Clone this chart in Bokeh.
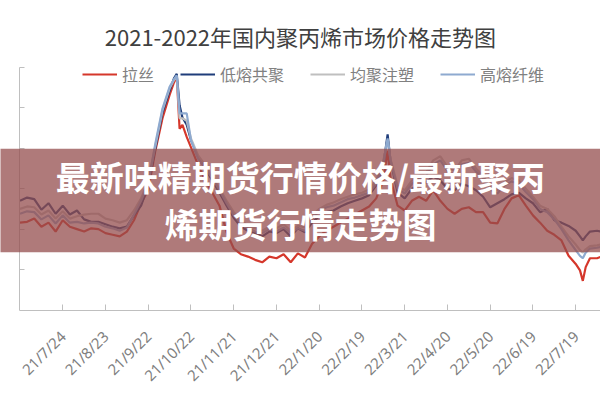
import pandas as pd
from math import pi
from bokeh.plotting import figure
from bokeh.models import (Range1d, LinearAxis, FixedTicker, Legend, LegendItem,
                          BoxAnnotation, Label)
from bokeh.embed import file_html
from bokeh.resources import INLINE

TITLE = "2021-2022年国内聚丙烯市场价格走势图"
OVERLAY_LINES = ["最新味精期货行情价格/最新聚丙", "烯期货行情走势图"]
SERIES_NAMES = ["拉丝", "低熔共聚", "均聚注塑", "高熔纤维"]
BASE_DATE = "2021-06-24"

DATES = [
    "2021-06-24", "2021-06-29", "2021-07-04", "2021-07-09", "2021-07-14", "2021-07-19",
    "2021-07-24", "2021-07-29", "2021-08-03", "2021-08-08", "2021-08-13", "2021-08-18",
    "2021-08-23", "2021-08-28", "2021-09-02", "2021-09-07", "2021-09-12", "2021-09-17",
    "2021-09-22", "2021-09-27", "2021-10-02", "2021-10-07",
    "2021-10-10", "2021-10-12", "2021-10-14", "2021-10-16", "2021-10-19",
    "2021-10-22", "2021-10-27", "2021-11-01", "2021-11-06", "2021-11-11", "2021-11-16",
    "2021-11-21", "2021-11-26", "2021-12-01", "2021-12-06", "2021-12-11", "2021-12-16",
    "2021-12-21", "2021-12-26", "2021-12-31", "2022-01-05", "2022-01-10", "2022-01-15",
    "2022-01-20", "2022-01-25", "2022-01-30", "2022-02-04", "2022-02-09", "2022-02-14",
    "2022-02-19", "2022-02-24", "2022-03-01", "2022-03-06",
    "2022-03-09",
    "2022-03-11", "2022-03-16", "2022-03-21", "2022-03-26", "2022-03-31", "2022-04-05",
    "2022-04-10", "2022-04-15", "2022-04-20", "2022-04-25", "2022-04-30", "2022-05-05",
    "2022-05-10", "2022-05-15", "2022-05-20", "2022-05-25", "2022-05-30", "2022-06-04",
    "2022-06-09", "2022-06-14", "2022-06-19", "2022-06-24", "2022-06-29", "2022-07-04",
    "2022-07-09", "2022-07-14", "2022-07-19",
    "2022-07-22", "2022-07-24", "2022-07-26", "2022-07-29", "2022-08-03", "2022-08-06",
]

LASI = [
    8580, 8590, 8630, 8530, 8580, 8470, 8610, 8530, 8500, 8470, 8510, 8500, 8450, 8430,
    8410, 8470, 8610, 8820, 8980, 9470, 9870, 10160,
    10310, 10390, 9740, 9790, 9640,
    9510, 9290, 9100, 8950, 8790, 8460, 8260, 8190, 8160, 8120, 8090, 8160, 8140, 8190,
    8090, 8200, 8150, 8320, 8410, 8480, 8530, 8580, 8630, 8680, 8730, 8780, 8880, 9100,
    9470,
    9130, 8790, 8730, 8850, 8900, 8850, 8980, 8850, 8750, 8690, 8750, 8770, 8710, 8710,
    8580, 8570, 8750, 8880, 8920, 8790, 8670, 8580, 8480, 8430, 8360, 8170, 8070,
    7990, 7860, 8030, 8140, 8140, 8160,
]

DIRONG = [
    8850, 8890, 8870, 8740, 8820, 8690, 8790, 8680, 8730, 8620, 8590, 8590, 8560, 8530,
    8510, 8530, 8670, 8790, 9040, 9500, 9940, 10210,
    10360, 10420, 10030, 9880, 9790,
    9600, 9390, 9250, 9100, 8950, 8790, 8640, 8530, 8480, 8450, 8410, 8470, 8450, 8500,
    8410, 8510, 8460, 8580, 8660, 8710, 8730, 8780, 8820, 8850, 8880, 8920, 9040, 9290,
    9670,
    9350, 8950, 8880, 9000, 9040, 9080, 9150, 9100, 9000, 8980, 9060, 9030, 8980, 8900,
    8770, 8820, 8870, 8930, 8950, 8880, 8820, 8710, 8750, 8610, 8580, 8540, 8480,
    8410, 8360, 8410, 8470, 8480, 8470,
]

JUNJU = [
    8750, 8780, 8770, 8680, 8730, 8630, 8720, 8630, 8660, 8680, 8690, 8690, 8630, 8610,
    8580, 8610, 8730, 8880, 9100, 9530, 9970, 10240,
    10340, 10390, 9870, 9870, 9840,
    9620, 9410, 9290, 9150, 9000, 8850, 8710, 8610, 8540, 8510, 8480, 8530, 8510, 8560,
    8480, 8540, 8520, 8670, 8750, 8800, 8830, 8870, 8900, 8930, 8950, 8990, 9100, 9350,
    9600,
    9370, 9040, 8980, 9100, 9160, 9200, 9350, 9400, 9270, 9220, 9350, 9370, 9250, 9160,
    9030, 8980, 9080, 9130, 9100, 9000, 8900, 8790, 8750, 8660, 8530, 8410, 8310,
    8240, 8210, 8250, 8290, 8300, 8310,
]

GAORONG = [
    8690, 8720, 8710, 8620, 8670, 8570, 8670, 8580, 8590, 8570, 8580, 8570, 8530, 8510,
    8480, 8520, 8680, 8850, 9060, 9560, 9990, 10260,
    10350, 10400, 9930, 9930, 9930,
    9600, 9370, 9250, 9130, 8980, 8820, 8670, 8570, 8510, 8470, 8450, 8500, 8470, 8520,
    8450, 8510, 8480, 8630, 8720, 8770, 8790, 8830, 8870, 8890, 8920, 8950, 9060, 9320,
    9620,
    9350, 9000, 8940, 9060, 9130, 9160, 9300, 9350, 9220, 9170, 9300, 9320, 9210, 9130,
    8990, 8940, 9040, 9090, 9060, 8960, 8870, 8750, 8710, 8620, 8500, 8360, 8240,
    8170, 8140, 8210, 8260, 8270, 8280,
]

# ticks every 30 days; the first one (21/6/24) sits on the axis corner and its
# label runs off the picture's left edge in the source, so only the rest are labelled
TICK_DATES = ["2021-07-24", "2021-08-23", "2021-09-22", "2021-10-22",
              "2021-11-21", "2021-12-21", "2022-01-20", "2022-02-19", "2022-03-21",
              "2022-04-20", "2022-05-20", "2022-06-19", "2022-07-19"]
TICK_LABELS = ["21/7/24", "21/8/23", "21/9/22", "21/10/22", "21/11/21",
               "21/12/21", "22/1/20", "22/2/19", "22/3/21", "22/4/20", "22/5/20",
               "22/6/19", "22/7/19"]
Y_TICKS = [7500, 8000, 8500, 9000, 9500, 10000, 10500]

COLORS = ["#d5372b", "#1f3d7a", "#bfbfbf", "#8eaad0"]

base = pd.Timestamp(BASE_DATE)
xs = [(pd.Timestamp(d) - base).days for d in DATES]
tick_x = [(pd.Timestamp(d) - base).days for d in TICK_DATES]

CJK = "Noto Sans CJK SC"
LABEL_FONT = "Noto Sans"
LABEL_SIZE = "15px"
LABEL_COLOR = "#808080"
STANDOFF = 23

p = figure(width=600, height=400, output_backend="svg", toolbar_location=None,
           x_range=Range1d(-13.68, 407.4), y_range=Range1d(7494, 11326),
           x_axis_location=None, y_axis_location=None,
           min_border_left=0, min_border_right=0, min_border_top=0,
           min_border_bottom=90)
p.outline_line_color = None
p.xgrid.visible = False
p.ygrid.visible = False
p.background_fill_color = "white"
p.border_fill_color = "white"

xaxis = LinearAxis(ticker=FixedTicker(ticks=tick_x, minor_ticks=[]), bounds=(0, 1000),
                   major_label_overrides={t: l for t, l in zip(tick_x, TICK_LABELS)})
xaxis.major_label_orientation = pi / 4
xaxis.major_label_text_font = LABEL_FONT
xaxis.major_label_text_font_size = LABEL_SIZE
xaxis.major_label_text_color = LABEL_COLOR
xaxis.major_label_standoff = STANDOFF
xaxis.axis_line_color = "#bfbfbf"
xaxis.major_tick_line_color = "#bfbfbf"
xaxis.major_tick_in = 6
xaxis.major_tick_out = 0
xaxis.minor_tick_line_color = None
p.add_layout(xaxis, "below")

yaxis = LinearAxis(ticker=FixedTicker(ticks=Y_TICKS, minor_ticks=[]), bounds=(7500, 10500),
                   fixed_location=0,
                   major_label_overrides={v: "" for v in Y_TICKS})
yaxis.major_label_standoff = 0
yaxis.axis_line_color = "#bfbfbf"
yaxis.major_tick_line_color = "#bfbfbf"
yaxis.major_tick_in = 5
yaxis.major_tick_out = 0
yaxis.minor_tick_line_color = None
p.add_layout(yaxis, "left")

renderers = []
for vals, c in zip([LASI, DIRONG, JUNJU, GAORONG], COLORS):
    r = p.line(xs, vals, line_color=c, line_width=2.2)
    renderers.append(r)

legend = Legend(items=[LegendItem(label=n, renderers=[r]) for n, r in zip(SERIES_NAMES, renderers)],
                orientation="horizontal", location=(82, 224))
legend.label_text_font = CJK
legend.label_text_font_size = "16px"
legend.label_text_color = LABEL_COLOR
legend.glyph_width = 35
legend.glyph_height = 16
legend.label_height = 16
legend.label_standoff = 5
legend.spacing = 26
legend.padding = 0
legend.margin = 0
legend.border_line_color = None
legend.background_fill_alpha = 0
p.add_layout(legend, "center")

title = Label(x=196.8, y=10893, text=TITLE, text_align="center", text_baseline="middle",
              text_font=CJK, text_font_size="22px", text_color="#404040")
p.add_layout(title)

band = BoxAnnotation(left=-100, right=1000, top=9493, bottom=8215,
                     fill_color="#944d4d", fill_alpha=0.75, line_color=None, level="overlay")
p.add_layout(band)

for txt, yv in zip(OVERLAY_LINES, [9150, 8569]):
    p.add_layout(Label(x=196.8, y=yv, text=txt, text_align="center", text_baseline="middle",
                       text_font=CJK, text_font_size="34px", text_font_style="bold",
                       text_color="white", level="overlay"))

open("out.html", "w").write(file_html(p, INLINE))
